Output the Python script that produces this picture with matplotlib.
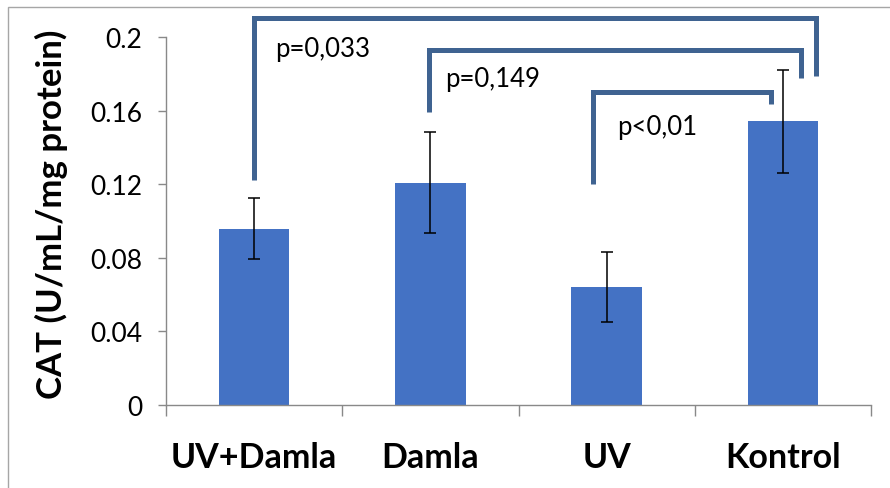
import numpy as np
import matplotlib.pyplot as plt
from matplotlib.patches import Rectangle

groups = ["UV+Damla", "Damla", "UV", "Kontrol"]
cat_mean = [0.096, 0.121, 0.0642, 0.1542]
cat_err = [0.0164, 0.0277, 0.0191, 0.0282]

# significance brackets: (x_left, x_right, y_top, y_left_end, y_right_end, label)
brackets = [
    (0.0, 3.19, 0.2107, 0.1226, 0.1792, "p=0,033"),
    (0.99, 3.10, 0.1932, 0.1596, 0.1781, "p=0,149"),
    (1.92, 2.93, 0.1705, 0.1203, 0.1638, "p<0,01"),
]
label_pos = [(0.12, 0.1937), (1.084, 0.1774), (2.06, 0.1513)]

plt.rcParams["font.family"] = ["Lato", "DejaVu Sans"]

fig = plt.figure(figsize=(8.9, 4.89), dpi=100)
ax = fig.add_axes([0.1865, 0.1697, 0.9787 - 0.1865, 0.9217 - 0.1697])

x = np.arange(len(groups))
ax.bar(x, cat_mean, width=0.4, color="#4472C4", zorder=2)
ax.errorbar(x, cat_mean, yerr=cat_err, fmt="none", ecolor="black",
            elinewidth=1.1, capsize=4, capthick=1.1, zorder=3)

ax.set_xlim(-0.5, 3.5)
ax.set_ylim(0, 0.2)
ax.set_yticks([0, 0.04, 0.08, 0.12, 0.16, 0.2])
ax.set_yticklabels(["0", "0.04", "0.08", "0.12", "0.16", "0.2"])
ax.set_xticks(np.arange(-0.5, 4, 1.0))
ax.set_xticklabels([])
ax.set_xticks(x, minor=True)
ax.set_xticklabels(groups, minor=True, fontsize=24.5, fontweight="bold")
ax.tick_params(axis="x", which="major", length=8, color="#898989", width=1)
ax.tick_params(axis="x", which="minor", length=0, pad=26)
ax.tick_params(axis="y", length=6, color="#898989", width=1, labelsize=19, pad=11)

for side in ["top", "right"]:
    ax.spines[side].set_visible(False)
for side in ["left", "bottom"]:
    ax.spines[side].set_color("#898989")
    ax.spines[side].set_linewidth(1)

ax.set_ylabel("CAT (U/mL/mg protein)", fontsize=25, fontweight="bold")
ax.yaxis.set_label_coords(-0.139, 0.52)

for (xl, xr, yt, yl, yr, txt), (tx, ty) in zip(brackets, label_pos):
    ax.plot([xl, xl, xr, xr], [yl, yt, yt, yr], color="#3F6391", lw=3.6,
            solid_capstyle="butt", solid_joinstyle="miter", clip_on=False, zorder=4)
    ax.text(tx, ty, txt, fontsize=18.5, va="center", ha="left")

# outer chart border
fig.patches.append(Rectangle((8 / 890, -0.1), 1.2, 1.1 - 8 / 489, transform=fig.transFigure,
                             fill=False, edgecolor="#A6A6A6", lw=1))

fig.savefig("out.png", dpi=100)
